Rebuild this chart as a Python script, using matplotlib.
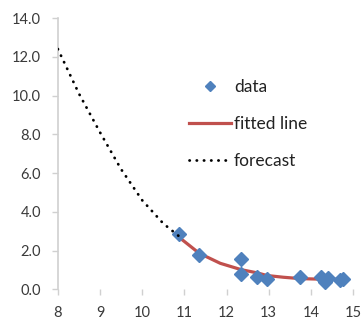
import numpy as np
import matplotlib.pyplot as plt

# observed data points
data_x = [10.87, 11.35, 12.35, 12.35, 12.72, 12.96, 13.75, 14.25, 14.34, 14.41, 14.68, 14.76]
data_y = [2.85, 1.77, 1.55, 0.82, 0.64, 0.56, 0.64, 0.64, 0.38, 0.61, 0.47, 0.52]

# fitted curve over the data range
fit_x = [10.87, 11.35, 11.85, 12.35, 12.72, 12.96, 13.35, 13.75, 14.25, 14.76]
fit_y = [2.70, 1.87, 1.35, 1.02, 0.86, 0.72, 0.63, 0.56, 0.53, 0.52]

# backward forecast
fc_x = [8.0, 8.5, 9.0, 9.5, 10.0, 10.5, 10.87]
fc_y = [12.4, 10.1, 8.1, 6.2, 4.6, 3.4, 2.75]

xticks = [8, 9, 10, 11, 12, 13, 14, 15]
yticks = [0, 2, 4, 6, 8, 10, 12, 14]

plt.rcParams['font.family'] = ['Lato', 'DejaVu Sans']

fig = plt.figure(figsize=(3.64, 3.22), dpi=100)
ax = fig.add_axes([0.159, 0.101, 0.811, 0.843])

ax.plot(data_x, data_y, linestyle='none', marker='D', markersize=7,
        color='#4F81BD', label='data', zorder=3)
ax.plot(fit_x, fit_y, color='#C0504D', linewidth=2.3, label='fitted line', zorder=2)
ax.plot(fc_x, fc_y, color='black', linewidth=2.0, linestyle=(0, (0.1, 2.5)),
        dash_capstyle='round', label='forecast', zorder=4)

ax.set_xlim(8, 15)
ax.set_ylim(0, 14)
ax.set_xticks(xticks)
ax.set_yticks(yticks)
ax.set_yticklabels([f"{v:.1f}" for v in yticks])

for s in ['top', 'right', 'bottom']:
    ax.spines[s].set_visible(False)
ax.spines['left'].set_color('#d0d0d0')
ax.spines['left'].set_linewidth(1.2)

ax.tick_params(axis='y', direction='out', length=4, width=1, color='#d0d0d0',
               pad=8, labelsize=10.5, labelcolor='#3a3a3a')
ax.tick_params(axis='x', direction='out', length=4, width=1, color='#d0d0d0',
               pad=8, labelsize=10.5, labelcolor='#3a3a3a')

leg = ax.legend(loc='upper left', bbox_to_anchor=(189 / 364, 1 - 79 / 322),
                bbox_transform=fig.transFigure, frameon=False, fontsize=12.5,
                handlelength=2.4, handletextpad=0.2, labelspacing=1.2, borderpad=0,
                borderaxespad=0, markerscale=0.8)
for t in leg.get_texts():
    t.set_color('#222222')

fig.savefig('out.png', dpi=100)
